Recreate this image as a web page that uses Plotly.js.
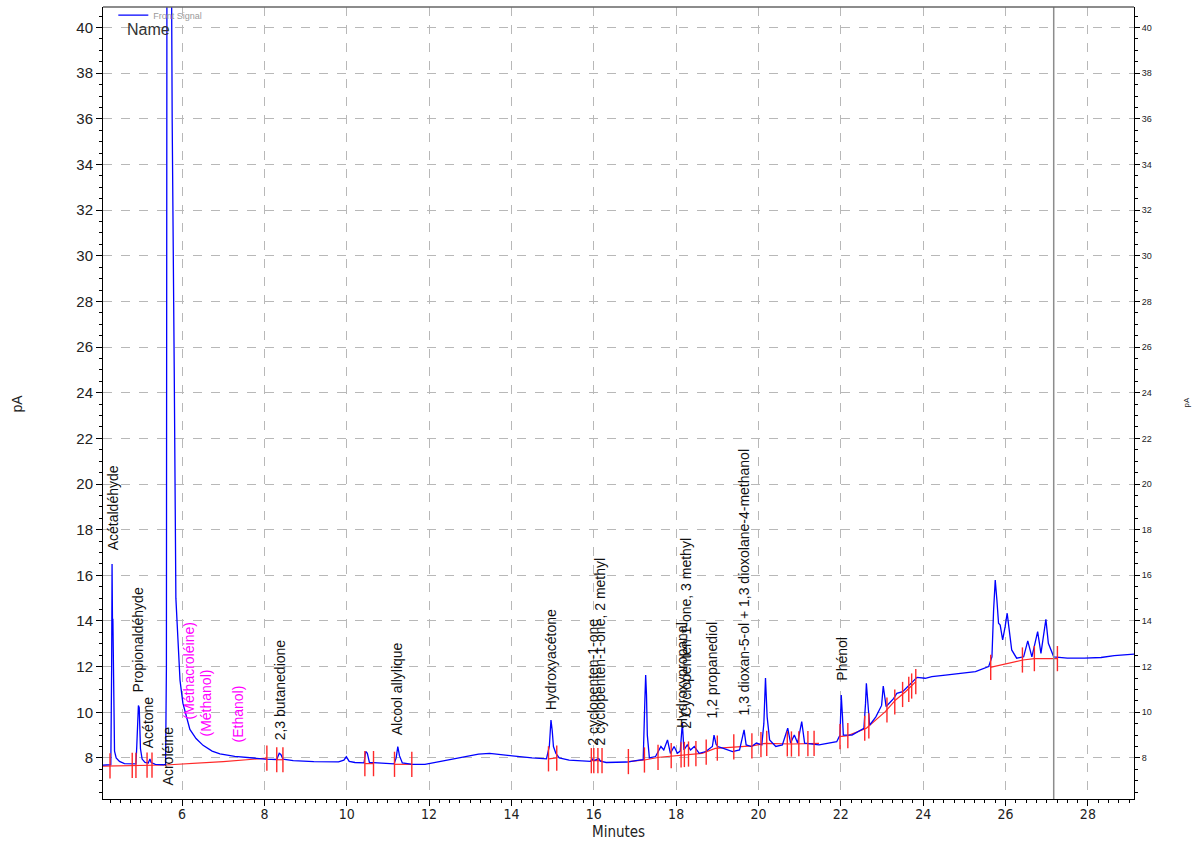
<!DOCTYPE html>
<html>
<head>
<meta charset="utf-8">
<script src="https://cdn.plot.ly/plotly-3.0.1.min.js"></script>
<style>html,body{margin:0;padding:0;background:#fff;}#chart{width:1196px;height:842px;}</style>
</head>
<body>
<div id="chart"></div>
<script>
// ---- Data (retention time in minutes, signal in pA) ----
const signalTime = [4.08,4.20,4.27,4.29,4.30,4.31,4.32,4.33,4.34,4.36,4.40,4.48,4.60,4.80,4.88,4.90,4.92,4.94,4.96,4.97,4.99,5.03,5.10,5.18,5.22,5.25,5.35,5.55,5.60,5.62,5.64,5.70,5.74,5.76,5.81,5.83,5.85,5.90,5.95,6.02,6.10,6.19,6.34,6.51,6.73,6.92,7.28,7.65,8.01,8.30,8.36,8.40,8.45,8.70,9.20,9.80,9.93,9.99,10.06,10.20,10.42,10.46,10.50,10.55,10.90,11.15,11.20,11.24,11.28,11.35,11.60,11.90,12.25,12.80,13.20,13.47,13.80,14.02,14.50,14.85,14.92,14.96,14.99,15.02,15.08,15.16,15.40,15.65,15.92,15.96,16.00,16.12,16.16,16.30,16.62,16.80,17.10,17.20,17.24,17.26,17.28,17.30,17.35,17.50,17.63,17.70,17.79,17.86,17.95,18.03,18.10,18.15,18.19,18.27,18.35,18.44,18.56,18.72,18.88,18.92,18.97,19.01,19.13,19.37,19.54,19.65,19.70,19.83,19.95,20.08,20.13,20.17,20.21,20.27,20.42,20.58,20.71,20.78,20.87,20.95,21.05,21.12,21.47,21.90,21.98,22.01,22.04,22.06,22.27,22.56,22.60,22.62,22.67,22.70,22.85,22.99,23.03,23.10,23.28,23.36,23.50,23.62,23.74,23.85,24.05,24.21,24.54,24.86,25.27,25.59,25.67,25.71,25.75,25.79,25.83,25.87,25.93,25.99,26.04,26.09,26.15,26.27,26.44,26.54,26.64,26.78,26.86,26.98,27.04,27.17,27.50,27.91,28.32,28.64,28.97,29.12];
const signalPA = [7.68,7.68,7.70,12.0,16.5,14.0,14.1,11.5,9.0,8.3,8.0,7.85,7.75,7.72,7.74,8.5,10.0,10.3,10.2,9.4,8.4,7.95,7.8,7.78,7.95,7.8,7.72,7.70,7.72,12,60,60,42,36,25,18,15,13.2,11.4,10.4,9.8,9.25,8.85,8.55,8.3,8.18,8.07,8.0,7.95,7.93,8.2,8.15,7.95,7.88,7.84,7.83,7.9,8.05,7.85,7.8,7.78,8.28,8.2,7.8,7.75,7.74,8.0,8.5,8.1,7.78,7.72,7.72,7.84,8.05,8.17,8.2,8.15,8.09,8.0,7.96,8.5,9.66,9.2,8.5,8.2,8.0,7.9,7.87,7.85,7.95,7.88,7.97,7.86,7.8,7.82,7.82,7.9,7.92,10.5,11.63,10.76,9.0,8.0,8.06,8.5,8.35,8.79,8.2,8.5,8.2,8.3,9.52,8.35,8.57,8.35,8.5,8.2,8.28,8.5,9.0,8.6,8.5,8.43,8.28,8.35,9.23,8.57,8.5,8.65,8.57,9.5,11.5,9.8,8.79,8.5,8.57,9.3,8.65,9.0,8.65,9.59,8.65,8.57,8.71,9.0,10.76,9.8,9.0,9.0,9.3,10.4,11.27,10.1,9.44,9.8,10.3,11.15,10.25,10.6,10.83,10.9,11.12,11.34,11.53,11.49,11.56,11.63,11.7,11.78,12.0,12.43,14.48,15.79,14.92,13.9,13.82,13.17,13.75,14.34,13.6,12.73,12.37,12.43,13.13,12.43,13.53,12.58,14.07,13.02,12.43,12.37,12.37,12.4,12.48,12.54,12.55];

// integration baselines (null = gap)
const baselineTime = [4.08,5.6,7.0,8.06,null,8.30,8.45,null,10.44,10.65,null,11.16,11.58,null,14.90,15.10,null,15.94,16.20,null,16.85,17.23,17.59,18.12,18.63,18.95,19.85,20.17,20.81,21.47,null,21.97,22.17,22.62,23.08,23.33,23.57,23.82,null,25.63,26.42,26.70,27.27];
const baselinePA = [7.64,7.69,7.84,7.99,null,7.92,7.92,null,7.75,7.75,null,7.72,7.72,null,7.96,8.0,null,7.88,7.88,null,7.84,7.91,8.03,8.13,8.2,8.42,8.53,8.64,8.61,8.64,null,8.93,8.98,9.3,10.03,10.54,10.9,11.34,null,11.97,12.29,12.35,12.35];

// peak start / end markers
const markTime = [4.25,4.79,4.88,5.15,5.27,8.06,8.30,8.45,10.44,10.65,11.16,11.58,14.90,15.10,15.94,16.00,16.10,16.20,16.84,17.23,17.56,17.88,18.12,18.20,18.30,18.48,18.73,19.00,19.40,19.84,20.06,20.20,20.70,20.80,20.98,21.20,21.35,21.98,22.17,22.58,22.68,23.12,23.31,23.50,23.65,23.72,23.82,25.64,26.41,26.70,27.26];
const markPA = [7.65,7.67,7.67,7.68,7.68,7.99,7.92,7.92,7.75,7.75,7.72,7.72,7.96,7.99,7.88,7.88,7.88,7.88,7.84,7.91,8.02,8.10,8.13,8.15,8.17,8.19,8.25,8.43,8.48,8.53,8.58,8.64,8.62,8.61,8.62,8.63,8.64,8.93,8.98,9.30,9.40,10.10,10.45,10.78,11.00,11.15,11.34,11.97,12.29,12.35,12.35];

// peak names
const peakNames = ["Acétaldéhyde","Propionaldéhyde","Acétone","Acroléine","(Méthacroléine)","(Méthanol)","(Ethanol)","2,3 butanedione","Alcool allylique","Hydroxyacétone","2 cyclopenten-1-one","2 cyclopenten-1-one, 2 methyl","Hydroxypropanal","2 Cyclopenten-1-one, 3 methyl","1,2 propanediol","1,3 dioxan-5-ol + 1,3 dioxolane-4-methanol","Phénol"];
const peakNameTime = [4.33,4.93,5.18,5.66,6.17,6.58,7.36,8.40,11.24,14.95,15.99,16.14,18.13,18.23,18.87,19.65,22.03];
const peakNameBase = [17.0,10.76,8.35,6.69,9.58,8.87,8.57,8.7,8.92,10.0,8.44,8.44,9.2,9.2,9.66,9.75,11.3];
const peakNameSpecial = [false,false,false,false,true,true,true,false,false,false,false,false,false,false,false,false,false];

const endMarkerTime = 27.17;
const xRange = [4.08, 29.12];
const yRange = [6.2, 40.9];

const FONT = "Liberation Sans, Arial, sans-serif";
const NARROW = "Liberation Sans Narrow, Arial Narrow, DejaVu Sans Condensed, Liberation Sans, Arial, sans-serif";

const traces = [
  {x: baselineTime, y: baselinePA, type: "scatter", mode: "lines", line: {color: "rgb(255,40,40)", width: 1.2}, showlegend: false, hoverinfo: "skip", connectgaps: false},
  {x: signalTime, y: signalPA, type: "scatter", mode: "lines", name: "Front Signal", line: {color: "#0000ff", width: 1.3}, showlegend: true},
  {x: markTime, y: markPA, type: "scatter", mode: "markers", yaxis: "y2", marker: {symbol: "line-ns", size: 18, line: {color: "rgb(255,40,40)", width: 1.4}}, showlegend: false, hoverinfo: "skip"}
];

const annotations = peakNames.map((t, i) => ({
  x: peakNameTime[i], y: peakNameBase[i], xref: "x", yref: "y",
  text: t, textangle: -90, showarrow: false,
  xanchor: "center", yanchor: "bottom",
  font: {family: FONT, size: 14, color: peakNameSpecial[i] ? "#ff00ff" : "#111"}
}));
annotations.push(
  {x: 0.021, y: 0.971, xref: "paper", yref: "paper", text: "Name", showarrow: false, xanchor: "left", yanchor: "middle", font: {family: FONT, size: 16, color: "#333"}},
  {x: -0.083, y: 0.5, xref: "paper", yref: "paper", text: "pA", showarrow: false, textangle: -90, xanchor: "center", yanchor: "middle", font: {family: FONT, size: 14, color: "#222"}},
  {x: 1.05, y: 0.5, xref: "paper", yref: "paper", text: "pA", showarrow: false, textangle: -90, xanchor: "center", yanchor: "middle", font: {family: FONT, size: 8, color: "#222"}},
  {x: 0.5, y: -0.0417, xref: "paper", yref: "paper", text: "Minutes", showarrow: false, xanchor: "center", yanchor: "middle", font: {family: NARROW, size: 15, color: "#222"}}
);

const layout = {
  width: 1196, height: 842,
  margin: {l: 103, r: 62, t: 7, b: 43, autoexpand: false},
  paper_bgcolor: "#fff", plot_bgcolor: "#fff",
  showlegend: true,
  legend: {x: 0.01, y: 1.008, xanchor: "left", yanchor: "top", bgcolor: "rgba(0,0,0,0)", font: {family: FONT, size: 9, color: "#9a9a9a"}, itemwidth: 30, tracegroupgap: 0},
  xaxis: {
    range: xRange, tick0: 0, dtick: 2, ticks: "outside", ticklen: 6, tickcolor: "#000",
    ticklabelstandoff: -4,
    showline: true, linecolor: "#000", linewidth: 1, zeroline: false,
    showgrid: true, gridcolor: "#b8b8b8", griddash: "dash", gridwidth: 1,
    tickfont: {family: NARROW, size: 14, color: "#222"},
    minor: {tick0: 0, dtick: 0.25, ticks: "outside", ticklen: 3, tickcolor: "#000", showgrid: false}
  },
  yaxis: {
    range: yRange, tick0: 0, dtick: 2, ticks: "outside", ticklen: 6, tickcolor: "#000",
    showline: true, linecolor: "#000", linewidth: 1, zeroline: false,
    showgrid: true, gridcolor: "#b8b8b8", griddash: "dash", gridwidth: 1,
    tickfont: {family: FONT, size: 15, color: "#222"},
    minor: {tick0: 0, dtick: 0.5, ticks: "outside", ticklen: 3, tickcolor: "#000", showgrid: false}
  },
  yaxis2: {
    range: yRange, overlaying: "y", side: "right", anchor: "x", tick0: 0, dtick: 2,
    ticks: "outside", ticklen: 5, tickcolor: "#000",
    showline: true, linecolor: "#000", linewidth: 1, zeroline: false, showgrid: false,
    tickfont: {family: FONT, size: 9, color: "#222"},
    minor: {tick0: 0, dtick: 0.5, ticks: "outside", ticklen: 3, tickcolor: "#000", showgrid: false}
  },
  shapes: [
    {type: "line", xref: "x", yref: "paper", x0: endMarkerTime, x1: endMarkerTime, y0: 0, y1: 1, line: {color: "#8c8c8c", width: 1.5}},
    {type: "line", xref: "paper", yref: "paper", x0: 0, x1: 1, y0: 1, y1: 1, line: {color: "#666", width: 1.5}}
  ],
  annotations: annotations
};

Plotly.newPlot("chart", traces, layout, {displayModeBar: false, staticPlot: true});
</script>
</body>
</html>
